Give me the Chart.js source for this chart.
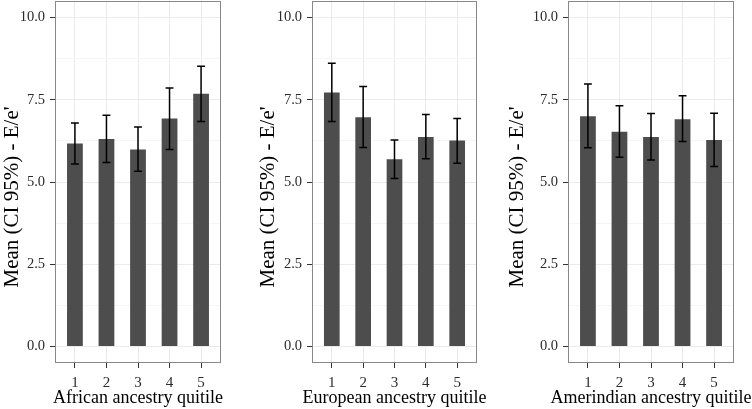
<!DOCTYPE html>
<html>
<head>
<meta charset="utf-8">
<script src="https://cdn.jsdelivr.net/npm/chart.js@4.4.1/dist/chart.umd.min.js"></script>
<style>
  html, body { margin: 0; padding: 0; background: #ffffff; }
  body { width: 752px; height: 409px; position: relative; overflow: hidden; }
  canvas { position: absolute; top: 0; }
</style>
</head>
<body>
<canvas id="c1" width="250" height="409" style="left:0px"></canvas>
<canvas id="c2" width="250" height="409" style="left:257px"></canvas>
<canvas id="c3" width="247" height="409" style="left:505px"></canvas>
<script>
// ---- data ----
const quintiles = [1, 2, 3, 4, 5];
const xTickLabels = ['1', '2', '3', '4', '5'];
const yMajorTicks = [0, 2.5, 5, 7.5, 10];

const africanMean  = [6.17, 6.31, 5.99, 6.93, 7.68];
const africanLower = [5.55, 5.59, 5.33, 5.99, 6.84];
const africanUpper = [6.79, 7.03, 6.67, 7.86, 8.52];

const europeanMean  = [7.72, 6.97, 5.69, 6.37, 6.26];
const europeanLower = [6.84, 6.05, 5.11, 5.71, 5.57];
const europeanUpper = [8.61, 7.90, 6.28, 7.05, 6.93];

const amerindianMean  = [7.00, 6.53, 6.37, 6.91, 6.28];
const amerindianLower = [6.04, 5.75, 5.67, 6.23, 5.47];
const amerindianUpper = [7.98, 7.32, 7.08, 7.62, 7.09];

const yTitle = "Mean (CI 95%) - E/e'";
const xTitles = ['African ancestry quitile', 'European ancestry quitile', 'Amerindian ancestry quitile'];

// ---- drawing ----
const FONT = "'Liberation Serif', 'Times New Roman', serif";
const yMinorTicks = yMajorTicks.slice(0, -1).map((v, i) => (v + yMajorTicks[i + 1]) / 2);
const yAllTicks = yMajorTicks.concat(yMinorTicks).sort((a, b) => a - b);
const isMajor = v => yMajorTicks.some(m => Math.abs(m - v) < 1e-9);

const decorPlugin = {
  id: 'decor',
  afterDatasetsDraw(chart, args, opts) {
    const ctx = chart.ctx;
    const meta = chart.getDatasetMeta(0);
    const y = chart.scales.y;
    ctx.save();
    ctx.strokeStyle = '#000000';
    ctx.lineWidth = 1.5;
    meta.data.forEach((bar, i) => {
      const half = bar.width * 0.25;
      const yHi = y.getPixelForValue(opts.upper[i]);
      const yLo = y.getPixelForValue(opts.lower[i]);
      ctx.beginPath();
      ctx.moveTo(bar.x, yHi); ctx.lineTo(bar.x, yLo);
      ctx.moveTo(bar.x - half, yHi); ctx.lineTo(bar.x + half, yHi);
      ctx.moveTo(bar.x - half, yLo); ctx.lineTo(bar.x + half, yLo);
      ctx.stroke();
    });
    ctx.restore();
  },
  afterDraw(chart, args, opts) {
    const ctx = chart.ctx;
    const a = chart.chartArea;
    ctx.save();
    ctx.strokeStyle = '#888888';
    ctx.lineWidth = 1;
    ctx.strokeRect(Math.round(a.left) - 0.5, Math.round(a.top) + 0.5,
                   Math.round(a.right - a.left) + 1, Math.round(a.bottom - a.top) - 1);
    // y title
    ctx.fillStyle = '#000000';
    ctx.font = '21px ' + FONT;
    ctx.textAlign = 'center';
    ctx.textBaseline = 'middle';
    ctx.translate(a.left - opts.yTitleGap, 197);
    ctx.rotate(-Math.PI / 2);
    ctx.fillText(yTitle, 0, 0);
    ctx.restore();
    // x title
    ctx.save();
    ctx.fillStyle = '#000000';
    ctx.font = '18px ' + FONT;
    ctx.textAlign = 'center';
    ctx.textBaseline = 'alphabetic';
    ctx.fillText(opts.xTitle, (a.left + a.right) / 2, 403);
    ctx.restore();
  }
};

function makeChart(id, means, lower, upper, xTitle, axisWidth, padRight, yTitleGap) {
  new Chart(document.getElementById(id), {
    type: 'bar',
    data: {
      datasets: [{
        data: quintiles.map((q, i) => ({ x: q, y: means[i] })),
        backgroundColor: '#4d4d4d',
        borderWidth: 0,
        barPercentage: 0.5,
        categoryPercentage: 1.0
      }]
    },
    options: {
      responsive: false,
      devicePixelRatio: 1,
      animation: false,
      events: [],
      layout: { padding: { top: 1, right: padRight, left: 0, bottom: 0 } },
      plugins: {
        legend: { display: false },
        tooltip: { enabled: false },
        decor: { lower: lower, upper: upper, xTitle: xTitle, yTitleGap: yTitleGap }
      },
      scales: {
        x: {
          type: 'linear',
          offset: false,
          min: 0.4,
          max: 5.6,
          afterBuildTicks: s => { s.ticks = quintiles.map(v => ({ value: v })); },
          afterFit: s => { s.height = 46; s.paddingLeft = 0; s.paddingRight = 0; },
          ticks: {
            callback: (v) => xTickLabels[quintiles.indexOf(v)] ?? '',
            color: '#2b2b2b',
            font: { family: FONT, size: 15 },
            padding: 6,
            maxRotation: 0,
            autoSkip: false
          },
          grid: { offset: false, color: '#ebebeb', lineWidth: 1, tickColor: '#333333', tickLength: 5, tickWidth: 1 },
          border: { display: false }
        },
        y: {
          type: 'linear',
          min: -0.5,
          max: 10.5,
          afterBuildTicks: s => { s.ticks = yAllTicks.map(v => ({ value: v })); },
          afterFit: s => { s.width = axisWidth; s.paddingTop = 0; s.paddingBottom = 0; },
          ticks: {
            callback: (v) => isMajor(v) ? v.toFixed(1) : '',
            color: '#2b2b2b',
            font: { family: FONT, size: 14.5 },
            padding: 5,
            autoSkip: false
          },
          grid: {
            color: c => (c.tick && isMajor(c.tick.value)) ? '#ebebeb' : '#f6f6f6',
            lineWidth: 1,
            tickColor: c => (c.tick && isMajor(c.tick.value)) ? '#333333' : 'rgba(0,0,0,0)',
            tickLength: 6,
            tickWidth: 1
          },
          border: { display: false }
        }
      }
    },
    plugins: [decorPlugin]
  });
}

makeChart('c1', africanMean, africanLower, africanUpper, xTitles[0], 56, 30, 44);
makeChart('c2', europeanMean, europeanLower, europeanUpper, xTitles[1], 56, 31, 45);
makeChart('c3', amerindianMean, amerindianLower, amerindianUpper, xTitles[2], 64, 19, 52);
</script>
</body>
</html>
